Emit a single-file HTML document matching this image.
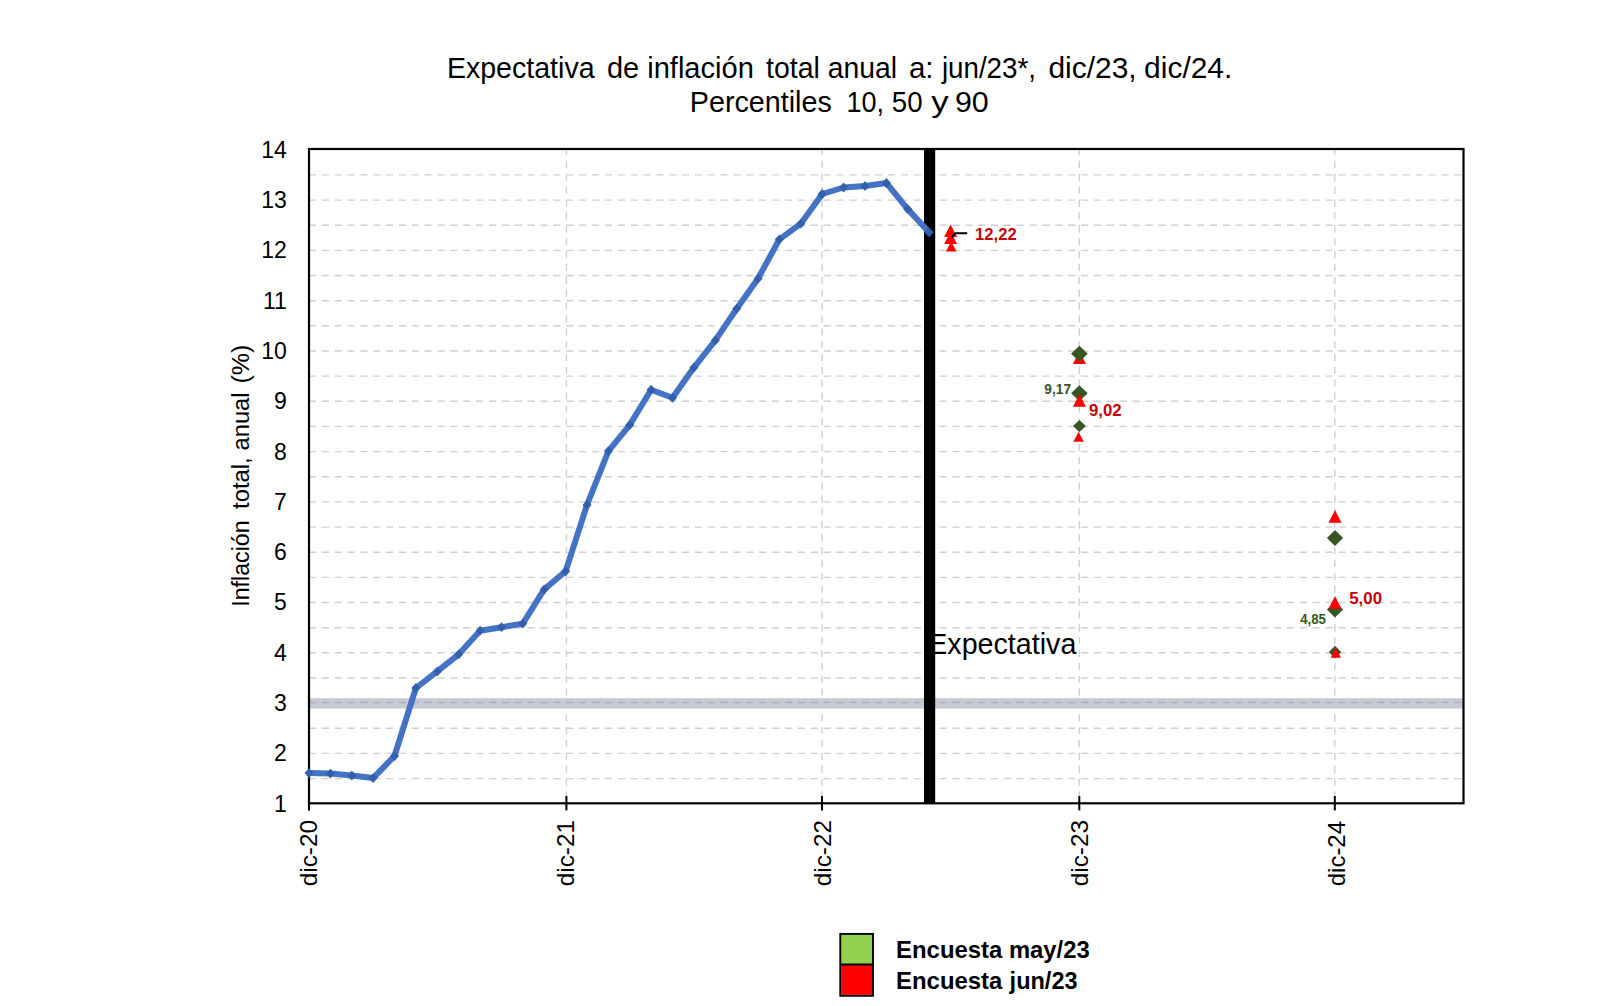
<!DOCTYPE html>
<html><head><meta charset="utf-8"><title>Expectativa de inflación</title>
<style>
html,body{margin:0;padding:0;background:#fff;}
body{width:1624px;height:1006px;overflow:hidden;}
svg{display:block;font-family:"Liberation Sans", sans-serif;}
</style></head><body>
<svg width="1624" height="1006" viewBox="0 0 1624 1006">
<rect width="1624" height="1006" fill="#fff"/>
<line x1="308.8" y1="778.6" x2="1462.5" y2="778.6" stroke="#d0d0d0" stroke-width="1.4" stroke-dasharray="7.2 5.67"/>
<line x1="308.8" y1="753.4" x2="1462.5" y2="753.4" stroke="#d0d0d0" stroke-width="1.4" stroke-dasharray="7.2 5.67"/>
<line x1="308.8" y1="728.3" x2="1462.5" y2="728.3" stroke="#d0d0d0" stroke-width="1.4" stroke-dasharray="7.2 5.67"/>
<line x1="308.8" y1="703.1" x2="1462.5" y2="703.1" stroke="#d0d0d0" stroke-width="1.4" stroke-dasharray="7.2 5.67"/>
<line x1="308.8" y1="678.0" x2="1462.5" y2="678.0" stroke="#d0d0d0" stroke-width="1.4" stroke-dasharray="7.2 5.67"/>
<line x1="308.8" y1="652.8" x2="1462.5" y2="652.8" stroke="#d0d0d0" stroke-width="1.4" stroke-dasharray="7.2 5.67"/>
<line x1="308.8" y1="627.7" x2="1462.5" y2="627.7" stroke="#d0d0d0" stroke-width="1.4" stroke-dasharray="7.2 5.67"/>
<line x1="308.8" y1="602.5" x2="1462.5" y2="602.5" stroke="#d0d0d0" stroke-width="1.4" stroke-dasharray="7.2 5.67"/>
<line x1="308.8" y1="577.4" x2="1462.5" y2="577.4" stroke="#d0d0d0" stroke-width="1.4" stroke-dasharray="7.2 5.67"/>
<line x1="308.8" y1="552.2" x2="1462.5" y2="552.2" stroke="#d0d0d0" stroke-width="1.4" stroke-dasharray="7.2 5.67"/>
<line x1="308.8" y1="527.1" x2="1462.5" y2="527.1" stroke="#d0d0d0" stroke-width="1.4" stroke-dasharray="7.2 5.67"/>
<line x1="308.8" y1="501.9" x2="1462.5" y2="501.9" stroke="#d0d0d0" stroke-width="1.4" stroke-dasharray="7.2 5.67"/>
<line x1="308.8" y1="476.8" x2="1462.5" y2="476.8" stroke="#d0d0d0" stroke-width="1.4" stroke-dasharray="7.2 5.67"/>
<line x1="308.8" y1="451.6" x2="1462.5" y2="451.6" stroke="#d0d0d0" stroke-width="1.4" stroke-dasharray="7.2 5.67"/>
<line x1="308.8" y1="426.4" x2="1462.5" y2="426.4" stroke="#d0d0d0" stroke-width="1.4" stroke-dasharray="7.2 5.67"/>
<line x1="308.8" y1="401.3" x2="1462.5" y2="401.3" stroke="#d0d0d0" stroke-width="1.4" stroke-dasharray="7.2 5.67"/>
<line x1="308.8" y1="376.1" x2="1462.5" y2="376.1" stroke="#d0d0d0" stroke-width="1.4" stroke-dasharray="7.2 5.67"/>
<line x1="308.8" y1="351.0" x2="1462.5" y2="351.0" stroke="#d0d0d0" stroke-width="1.4" stroke-dasharray="7.2 5.67"/>
<line x1="308.8" y1="325.8" x2="1462.5" y2="325.8" stroke="#d0d0d0" stroke-width="1.4" stroke-dasharray="7.2 5.67"/>
<line x1="308.8" y1="300.7" x2="1462.5" y2="300.7" stroke="#d0d0d0" stroke-width="1.4" stroke-dasharray="7.2 5.67"/>
<line x1="308.8" y1="275.5" x2="1462.5" y2="275.5" stroke="#d0d0d0" stroke-width="1.4" stroke-dasharray="7.2 5.67"/>
<line x1="308.8" y1="250.4" x2="1462.5" y2="250.4" stroke="#d0d0d0" stroke-width="1.4" stroke-dasharray="7.2 5.67"/>
<line x1="308.8" y1="225.2" x2="1462.5" y2="225.2" stroke="#d0d0d0" stroke-width="1.4" stroke-dasharray="7.2 5.67"/>
<line x1="308.8" y1="200.1" x2="1462.5" y2="200.1" stroke="#d0d0d0" stroke-width="1.4" stroke-dasharray="7.2 5.67"/>
<line x1="308.8" y1="174.9" x2="1462.5" y2="174.9" stroke="#d0d0d0" stroke-width="1.4" stroke-dasharray="7.2 5.67"/>
<line x1="566.4" y1="148" x2="566.4" y2="802.3" stroke="#d0d0d0" stroke-width="1.4" stroke-dasharray="7.2 5.67"/>
<line x1="822.0" y1="148" x2="822.0" y2="802.3" stroke="#d0d0d0" stroke-width="1.4" stroke-dasharray="7.2 5.67"/>
<line x1="1079.3" y1="148" x2="1079.3" y2="802.3" stroke="#d0d0d0" stroke-width="1.4" stroke-dasharray="7.2 5.67"/>
<line x1="1334.8" y1="148" x2="1334.8" y2="802.3" stroke="#d0d0d0" stroke-width="1.4" stroke-dasharray="7.2 5.67"/>
<rect x="309" y="698.2" width="1154.5" height="10.4" fill="#c6cad3"/>
<line x1="308.8" y1="702.5" x2="1462.5" y2="702.5" stroke="#aeb0bd" stroke-width="1.5" stroke-dasharray="7.2 5.67"/>
<rect x="309" y="149" width="1154.5" height="654.3" fill="none" stroke="#000" stroke-width="2.2"/>
<line x1="309.0" y1="796" x2="309.0" y2="810.4" stroke="#000" stroke-width="2"/>
<line x1="566.4" y1="796" x2="566.4" y2="810.4" stroke="#000" stroke-width="2"/>
<line x1="822.0" y1="796" x2="822.0" y2="810.4" stroke="#000" stroke-width="2"/>
<line x1="1079.3" y1="796" x2="1079.3" y2="810.4" stroke="#000" stroke-width="2"/>
<line x1="1334.8" y1="796" x2="1334.8" y2="810.4" stroke="#000" stroke-width="2"/>
<rect x="935" y="630.5" width="143.5" height="36" fill="#fff"/>
<rect x="924" y="149" width="11.2" height="654.3" fill="#000"/>
<polyline points="309.0,773.1 330.4,773.6 351.8,775.6 373.1,778.1 394.5,756.0 415.9,688.0 437.3,671.4 458.7,654.3 480.1,630.7 501.5,627.2 522.8,623.6 544.2,589.4 565.6,571.3 587.0,504.9 608.4,451.1 629.8,424.9 651.1,389.7 672.5,397.8 693.9,367.6 715.3,340.4 736.7,308.7 758.1,278.5 779.4,239.3 800.8,223.7 822.2,194.0 843.6,187.5 865.0,186.0 886.4,183.0 907.7,209.1 929.1,232.3" fill="none" stroke="#4472c4" stroke-width="6" stroke-linejoin="round"/>
<path d="M309.0 768.2L313.5 773.1L309.0 778.0L304.5 773.1Z" fill="#3360ad"/>
<path d="M330.4 768.7L334.9 773.6L330.4 778.5L325.9 773.6Z" fill="#3360ad"/>
<path d="M351.8 770.7L356.3 775.6L351.8 780.5L347.3 775.6Z" fill="#3360ad"/>
<path d="M373.1 773.2L377.6 778.1L373.1 783.0L368.6 778.1Z" fill="#3360ad"/>
<path d="M394.5 751.1L399.0 756.0L394.5 760.9L390.0 756.0Z" fill="#3360ad"/>
<path d="M415.9 683.1L420.4 688.0L415.9 692.9L411.4 688.0Z" fill="#3360ad"/>
<path d="M437.3 666.5L441.8 671.4L437.3 676.3L432.8 671.4Z" fill="#3360ad"/>
<path d="M458.7 649.4L463.2 654.3L458.7 659.2L454.2 654.3Z" fill="#3360ad"/>
<path d="M480.1 625.8L484.6 630.7L480.1 635.6L475.6 630.7Z" fill="#3360ad"/>
<path d="M501.5 622.3L506.0 627.2L501.5 632.1L497.0 627.2Z" fill="#3360ad"/>
<path d="M522.8 618.7L527.3 623.6L522.8 628.5L518.3 623.6Z" fill="#3360ad"/>
<path d="M544.2 584.5L548.7 589.4L544.2 594.3L539.7 589.4Z" fill="#3360ad"/>
<path d="M565.6 566.4L570.1 571.3L565.6 576.2L561.1 571.3Z" fill="#3360ad"/>
<path d="M587.0 500.0L591.5 504.9L587.0 509.8L582.5 504.9Z" fill="#3360ad"/>
<path d="M608.4 446.2L612.9 451.1L608.4 456.0L603.9 451.1Z" fill="#3360ad"/>
<path d="M629.8 420.0L634.2 424.9L629.8 429.8L625.2 424.9Z" fill="#3360ad"/>
<path d="M651.1 384.8L655.6 389.7L651.1 394.6L646.6 389.7Z" fill="#3360ad"/>
<path d="M672.5 392.9L677.0 397.8L672.5 402.7L668.0 397.8Z" fill="#3360ad"/>
<path d="M693.9 362.7L698.4 367.6L693.9 372.5L689.4 367.6Z" fill="#3360ad"/>
<path d="M715.3 335.5L719.8 340.4L715.3 345.3L710.8 340.4Z" fill="#3360ad"/>
<path d="M736.7 303.8L741.2 308.7L736.7 313.6L732.2 308.7Z" fill="#3360ad"/>
<path d="M758.1 273.6L762.6 278.5L758.1 283.4L753.6 278.5Z" fill="#3360ad"/>
<path d="M779.4 234.4L783.9 239.3L779.4 244.2L774.9 239.3Z" fill="#3360ad"/>
<path d="M800.8 218.8L805.3 223.7L800.8 228.6L796.3 223.7Z" fill="#3360ad"/>
<path d="M822.2 189.1L826.7 194.0L822.2 198.9L817.7 194.0Z" fill="#3360ad"/>
<path d="M843.6 182.6L848.1 187.5L843.6 192.4L839.1 187.5Z" fill="#3360ad"/>
<path d="M865.0 181.1L869.5 186.0L865.0 190.9L860.5 186.0Z" fill="#3360ad"/>
<path d="M886.4 178.1L890.9 183.0L886.4 187.9L881.9 183.0Z" fill="#3360ad"/>
<path d="M907.7 204.2L912.2 209.1L907.7 214.0L903.2 209.1Z" fill="#3360ad"/>
<path d="M929.1 227.4L933.6 232.3L929.1 237.2L924.6 232.3Z" fill="#3360ad"/>
<path d="M951.2 241.6L956.5 251.6L945.9 251.6Z" fill="#ff0000"/>
<path d="M950.6 231.5L957.1 244.1L944.1 244.1Z" fill="#ff0000"/>
<path d="M950.6 224.4L957.1 237.0L944.1 237.0Z" fill="#ff0000"/>
<polyline points="967.2,233.3 955.5,233.3 951.5,237.5" fill="none" stroke="#000" stroke-width="2"/>
<path d="M1079.4 351.3L1085.9 363.9L1072.9 363.9Z" fill="#ff0000"/>
<path d="M1079.4 345.8L1087.7 353.8L1079.4 361.8L1071.1 353.8Z" fill="#375623"/>
<path d="M1079.4 385.2L1087.7 393.2L1079.4 401.2L1071.1 393.2Z" fill="#375623"/>
<path d="M1079.4 394.1L1085.9 406.7L1072.9 406.7Z" fill="#ff0000"/>
<path d="M1079.4 420.0L1085.9 426.0L1079.4 432.0L1073.0 426.0Z" fill="#375623"/>
<path d="M1078.6 432.0L1083.9 441.8L1073.3 441.8Z" fill="#ff0000"/>
<path d="M1335.0 510.1L1341.5 522.7L1328.5 522.7Z" fill="#ff0000"/>
<path d="M1335.0 530.1L1343.1 538.0L1335.0 545.9L1326.9 538.0Z" fill="#375623"/>
<path d="M1335.0 601.6L1343.1 609.6L1335.0 617.6L1326.9 609.6Z" fill="#375623"/>
<path d="M1335.0 596.1L1341.5 608.7L1328.5 608.7Z" fill="#ff0000"/>
<path d="M1335.0 645.7L1341.2 652.1L1335.0 658.5L1328.8 652.1Z" fill="#375623"/>
<path d="M1335.8 647.5L1340.9 657.8L1330.7 657.8Z" fill="#ff0000"/>
<rect x="840.3" y="933.9" width="32.7" height="61.9" fill="#92d050" stroke="#000" stroke-width="1.9"/>
<rect x="841.2" y="964.4" width="30.9" height="30.5" fill="#ff0000"/>
<line x1="840.3" y1="964.4" x2="873" y2="964.4" stroke="#000" stroke-width="2"/>
<text x="446.9" y="78.0" font-size="29" textLength="147.69" lengthAdjust="spacingAndGlyphs">Expectativa</text>
<text x="606.9" y="78.0" font-size="29">de</text>
<text x="647.2" y="78.0" font-size="29" textLength="106.72" lengthAdjust="spacingAndGlyphs">inflación</text>
<text x="766.1" y="78.0" font-size="29" textLength="53.79" lengthAdjust="spacingAndGlyphs">total</text>
<text x="827.8" y="78.0" font-size="29" textLength="69.30" lengthAdjust="spacingAndGlyphs">anual</text>
<text x="908.9" y="78.0" font-size="29" textLength="24.65" lengthAdjust="spacingAndGlyphs">a:</text>
<text x="941.9" y="78.0" font-size="29" textLength="94.10" lengthAdjust="spacingAndGlyphs">jun/23*,</text>
<text x="1048.4" y="78.0" font-size="29" textLength="88.27" lengthAdjust="spacingAndGlyphs">dic/23,</text>
<text x="1144.1" y="78.0" font-size="29" textLength="88.27" lengthAdjust="spacingAndGlyphs">dic/24.</text>
<text x="689.8" y="111.6" font-size="29" textLength="141.94" lengthAdjust="spacingAndGlyphs">Percentiles</text>
<text x="846.6" y="111.6" font-size="29" textLength="37.53" lengthAdjust="spacingAndGlyphs">10,</text>
<text x="891.8" y="111.6" font-size="29" textLength="30.76" lengthAdjust="spacingAndGlyphs">50</text>
<text x="931.2" y="111.6" font-size="29" textLength="17.40" lengthAdjust="spacingAndGlyphs">y</text>
<text x="954.9" y="111.6" font-size="29" textLength="33.88" lengthAdjust="spacingAndGlyphs">90</text>
<text x="928.2" y="654.2" font-size="29" textLength="148.20" lengthAdjust="spacingAndGlyphs">Expectativa</text>
<text x="975.1" y="239.6" font-size="16.5" font-weight="bold" fill="#c80008" textLength="41.61" lengthAdjust="spacingAndGlyphs">12,22</text>
<text x="1088.9" y="416.0" font-size="16.5" font-weight="bold" fill="#c80008" textLength="32.75" lengthAdjust="spacingAndGlyphs">9,02</text>
<text x="1349.2" y="604.1" font-size="16.5" font-weight="bold" fill="#c80008" textLength="32.95" lengthAdjust="spacingAndGlyphs">5,00</text>
<text x="1044.3" y="393.8" font-size="14" font-weight="bold" fill="#375623" textLength="26.73" lengthAdjust="spacingAndGlyphs">9,17</text>
<text x="1300.2" y="624.0" font-size="14" font-weight="bold" fill="#375623" textLength="25.64" lengthAdjust="spacingAndGlyphs">4,85</text>
<text x="896.0" y="957.8" font-size="24" font-weight="bold" textLength="106.41" lengthAdjust="spacingAndGlyphs">Encuesta</text>
<text x="1008.9" y="957.8" font-size="24" font-weight="bold" textLength="80.79" lengthAdjust="spacingAndGlyphs">may/23</text>
<text x="896.0" y="988.7" font-size="24" font-weight="bold" textLength="106.41" lengthAdjust="spacingAndGlyphs">Encuesta</text>
<text x="1009.6" y="988.7" font-size="24" font-weight="bold" textLength="67.95" lengthAdjust="spacingAndGlyphs">jun/23</text>
<text transform="translate(248.9,606.8) rotate(-90)" font-size="23" textLength="86.51" lengthAdjust="spacingAndGlyphs">Inflación</text>
<text transform="translate(248.9,508.9) rotate(-90)" font-size="23" textLength="51.64" lengthAdjust="spacingAndGlyphs">total,</text>
<text transform="translate(248.9,450.4) rotate(-90)" font-size="23" textLength="57.95" lengthAdjust="spacingAndGlyphs">anual</text>
<text transform="translate(248.9,383.6) rotate(-90)" font-size="23" textLength="38.93" lengthAdjust="spacingAndGlyphs">(%)</text>
<text transform="translate(317.4,886.3) rotate(-90)" font-size="24" textLength="66.41" lengthAdjust="spacingAndGlyphs">dic-20</text>
<text transform="translate(574.2,886.3) rotate(-90)" font-size="24" textLength="66.41" lengthAdjust="spacingAndGlyphs">dic-21</text>
<text transform="translate(831.0,886.3) rotate(-90)" font-size="24" textLength="66.41" lengthAdjust="spacingAndGlyphs">dic-22</text>
<text transform="translate(1087.8,886.3) rotate(-90)" font-size="24" textLength="66.41" lengthAdjust="spacingAndGlyphs">dic-23</text>
<text transform="translate(1344.6,886.3) rotate(-90)" font-size="24" textLength="65.38" lengthAdjust="spacingAndGlyphs">dic-24</text>
<text x="286.8" y="811.6" text-anchor="end" font-size="23">1</text>
<text x="286.8" y="761.3" text-anchor="end" font-size="23">2</text>
<text x="286.8" y="711.0" text-anchor="end" font-size="23">3</text>
<text x="286.8" y="660.7" text-anchor="end" font-size="23">4</text>
<text x="286.8" y="610.4" text-anchor="end" font-size="23">5</text>
<text x="286.8" y="560.1" text-anchor="end" font-size="23">6</text>
<text x="286.8" y="509.8" text-anchor="end" font-size="23">7</text>
<text x="286.8" y="459.5" text-anchor="end" font-size="23">8</text>
<text x="286.8" y="409.2" text-anchor="end" font-size="23">9</text>
<text x="286.8" y="358.9" text-anchor="end" font-size="23">10</text>
<text x="286.8" y="308.6" text-anchor="end" font-size="23">11</text>
<text x="286.8" y="258.3" text-anchor="end" font-size="23">12</text>
<text x="286.8" y="208.0" text-anchor="end" font-size="23">13</text>
<text x="286.8" y="157.7" text-anchor="end" font-size="23">14</text>
</svg>
</body></html>
